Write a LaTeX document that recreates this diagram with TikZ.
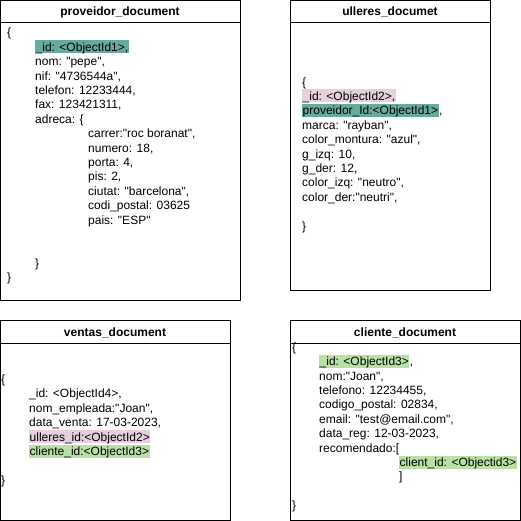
\documentclass[tikz,border=0pt]{standalone}
\usepackage{fontspec}
\setmainfont{Liberation Sans}[Ligatures=TeXOff]
\newcommand{\dq}{\char34\relax}
\definecolor{tealhl}{HTML}{67AB9F}
\definecolor{pinkhl}{HTML}{E6D0DE}
\definecolor{greenhl}{HTML}{B9E0A5}
\tikzset{
  docbox/.style={draw=black, line width=1pt},
  ttl/.style={anchor=base, inner sep=0pt, font=\bfseries\fontsize{12}{14}\selectfont},
  ln/.style={anchor=base west, inner sep=0pt, font=\fontsize{12}{14}\selectfont},
  hl/.style={ln, inner xsep=0.5pt, inner ysep=0pt, text height=11pt, text depth=2pt, fill=#1},
}
\begin{document}
\begin{tikzpicture}[x=1pt,y=-1pt]
\useasboundingbox (0,0) rectangle (521,521);
% boxes
\draw[docbox] (0.5,0.5) rectangle (240,300);
\draw[docbox] (0.5,23) -- (240,23);
\draw[docbox] (290,0.5) rectangle (490,290);
\draw[docbox] (290,23) -- (490,23);
\draw[docbox] (0.5,320) rectangle (230,520);
\draw[docbox] (0.5,343) -- (230,343);
\draw[docbox] (290,320) rectangle (520,520);
\draw[docbox] (290,343) -- (520,343);
% titles
\node[ttl] (t1) at (120,16) {proveidor\_document};
\node[ttl] (t2) at (390,16) {ulleres\_documet};
\node[ttl] (t3) at (115,336) {ventas\_document};
\node[ttl] (t4) at (405,336) {cliente\_document};
% proveidor
\node[ln] (p0) at (7,37) {\{};
\node[hl=tealhl] (p1) at (35,51.4) {\_id: <ObjectId1>,};
\node[ln] (p2) at (35,65.8) {nom: \dq pepe\dq,};
\node[ln] (p3) at (35,80.2) {nif: \dq 4736544a\dq,};
\node[ln] (p4) at (35,94.6) {telefon: 12233444,};
\node[ln] (p5) at (35,109) {fax: 123421311,};
\node[ln] (p6) at (35,123.4) {adreca: \{};
\node[ln] (p7) at (88,137.8) {carrer:\dq roc boranat\dq,};
\node[ln] (p8) at (88,152.2) {numero: 18,};
\node[ln] (p9) at (88,166.6) {porta: 4,};
\node[ln] (p10) at (88,181) {pis: 2,};
\node[ln] (p11) at (88,195.4) {ciutat: \dq barcelona\dq,};
\node[ln] (p12) at (88,209.8) {codi\_postal: 03625};
\node[ln] (p13) at (88,224.2) {pais: \dq ESP\dq};
\node[ln] (p16) at (35,267.4) {\}};
\node[ln] (p17) at (7,281.8) {\}};
% ulleres
\node[ln] (u0) at (302,86.1) {\{};
\node[hl=pinkhl] (u1) at (302,100.5) {\_id: <ObjectId2>,};
\node[hl=tealhl] (u2) at (302,114.9) {proveidor\_Id:<ObjectId1>};
\node[ln, anchor=base west] (u2c) at (u2.base east) {,};
\node[ln] (u3) at (302,129.3) {marca: \dq rayban\dq,};
\node[ln] (u4) at (302,143.7) {color\_montura: \dq azul\dq,};
\node[ln] (u5) at (302,158.1) {g\_izq: 10,};
\node[ln] (u6) at (302,172.5) {g\_der: 12,};
\node[ln] (u7) at (302,186.9) {color\_izq: \dq neutro\dq,};
\node[ln] (u8) at (302,201.3) {color\_der:\dq neutri\dq,};
\node[ln] (u10) at (302,230.1) {\}};
% ventas
\node[ln] (v0) at (1,383.5) {\{};
\node[ln] (v1) at (29,397.9) {\_id: <ObjectId4>,};
\node[ln] (v2) at (29,412.3) {nom\_empleada:\dq Joan\dq,};
\node[ln] (v3) at (29,426.7) {data\_venta: 17-03-2023,};
\node[hl=pinkhl] (v4) at (29,441.1) {ulleres\_id:<ObjectId2>};
\node[hl=greenhl] (v5) at (29,455.5) {cliente\_id:<ObjectId3>};
\node[ln] (v7) at (1,484.3) {\}};
% cliente
\node[ln] (c0) at (292,351.3) {\{};
\node[hl=greenhl] (c1) at (319,365.7) {\_id: <ObjectId3>};
\node[ln, anchor=base west] (c1c) at (c1.base east) {,};
\node[ln] (c2) at (319,380.1) {nom:\dq Joan\dq,};
\node[ln] (c3) at (319,394.5) {telefono: 12234455,};
\node[ln] (c4) at (319,408.9) {codigo\_postal: 02834,};
\node[ln] (c5) at (319,423.3) {email: \dq test@email.com\dq,};
\node[ln] (c6) at (319,437.7) {data\_reg: 12-03-2023,};
\node[ln] (c7) at (319,452.1) {recomendado:[};
\node[hl=greenhl] (c8) at (399,466.5) {client\_id: <Objectid3>};
\node[ln] (c9) at (399,480.9) {]};
\node[ln] (c11) at (292,509.7) {\}};
\end{tikzpicture}
\end{document}
